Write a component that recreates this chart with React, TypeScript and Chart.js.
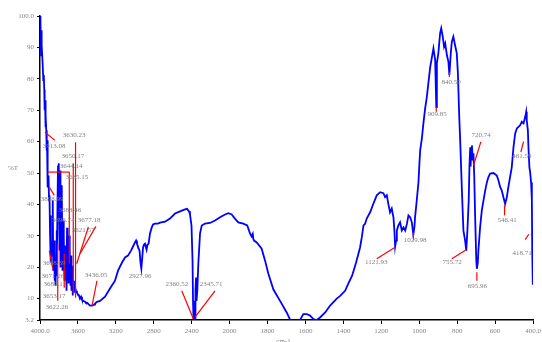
import React, { useEffect, useRef } from "react";
import { Chart, registerables } from "chart.js";

Chart.register(...registerables);

// Spectrum: wavenumber (cm-1) and %T
const WAVENUMBERS = [
  4000, 3997, 3994, 3989, 3986, 3983, 3979, 3974, 3965, 3960, 3955, 3951, 3947, 3943, 3939, 3934, 3929, 3926, 3923, 3919,
  3916, 3910, 3905, 3900, 3894, 3889, 3884, 3879, 3873, 3868, 3863, 3860, 3852, 3847, 3842, 3836, 3831, 3826, 3821, 3815,
  3810, 3805, 3800, 3794, 3789, 3784, 3778, 3773, 3768, 3763, 3757, 3752, 3747, 3742, 3736, 3731, 3726, 3720, 3715, 3710,
  3705, 3699, 3694, 3689, 3684, 3678, 3673, 3668, 3662, 3657, 3652, 3647, 3641, 3636, 3631, 3620, 3610, 3599, 3589, 3578,
  3567, 3557, 3546, 3536, 3525, 3515, 3504, 3494, 3483, 3472, 3462, 3451, 3441, 3430, 3420, 3399, 3367, 3314, 3262, 3209,
  3177, 3135, 3103, 3072, 3040, 3019, 2998, 2987, 2977, 2963, 2950, 2940, 2931, 2924, 2913, 2903, 2892, 2876, 2866, 2855,
  2840, 2822, 2808, 2787, 2755, 2734, 2681, 2629, 2576, 2523, 2470, 2449, 2428, 2418, 2402, 2391, 2386, 2381, 2375, 2370,
  2365, 2360, 2354, 2349, 2341, 2330, 2312, 2294, 2259, 2207, 2154, 2101, 2048, 2013, 1989, 1972, 1954, 1928, 1907, 1892,
  1884, 1878, 1875, 1871, 1857, 1831, 1813, 1796, 1769, 1734, 1699, 1681, 1671, 1655, 1639, 1629, 1611, 1593, 1576, 1558,
  1540, 1523, 1496, 1470, 1435, 1417, 1391, 1374, 1354, 1333, 1312, 1303, 1294, 1286, 1277, 1259, 1242, 1224, 1206, 1189,
  1180, 1171, 1163, 1154, 1145, 1136, 1131, 1127, 1122, 1118, 1110, 1101, 1092, 1083, 1074, 1065, 1057, 1048, 1039, 1031,
  1025, 1022, 1013, 1004, 999, 995, 986, 978, 969, 960, 951, 942, 933, 925, 916, 910, 907, 899, 890, 884,
  876, 869, 863, 854, 846, 841, 833, 828, 820, 811, 802, 796, 793, 789, 784, 775, 767, 758, 752, 746,
  739, 735, 731, 729, 726, 722, 718, 714, 710, 705, 699, 696, 691, 688, 679, 670, 661, 652, 643, 635,
  626, 608, 591, 582, 573, 565, 556, 547, 538, 530, 521, 512, 503, 494, 485, 477, 468, 459, 450, 441,
  436, 433, 427, 424, 419, 415, 410, 406, 404, 401,
];
const TRANSMITTANCE = [
  100, 92.3, 98.7, 87.5, 95.5, 89.1, 90.7, 86.0, 79.6, 81.2, 76.5, 70.0, 73.2, 64.6, 68.4, 63.6, 57.2, 60.4, 50.8, 54.0,
  45.4, 49.2, 41.3, 42.9, 30.7, 36.5, 21.5, 28.5, 23.7, 36.5, 41.3, 18.9, 28.5, 15.7, 25.3, 14.1, 22.1, 31.7, 17.3, 41.3,
  52.4, 38.1, 53.1, 25.3, 50.8, 19.9, 41.3, 28.5, 46.1, 18.9, 34.9, 22.1, 30.1, 15.7, 25.3, 17.3, 26.9, 12.5, 32.6, 18.9,
  28.5, 14.8, 30.1, 20.5, 25.3, 14.1, 23.7, 12.5, 20.5, 11.0, 17.3, 13.2, 15.7, 11.9, 13.8, 12.5, 11.9, 11.3, 11.0, 10.0,
  10.6, 9.7, 9.3, 9.3, 9.0, 8.7, 8.7, 8.4, 8.1, 7.8, 7.8, 7.8, 7.8, 8.1, 8.4, 9.0, 9.3, 10.6, 13.2, 15.7,
  18.9, 21.5, 23.1, 23.7, 25.3, 26.6, 27.9, 28.5, 27.5, 26.3, 25.3, 21.5, 19.6, 22.1, 26.3, 27.2, 27.5, 25.6, 27.2, 27.5,
  30.7, 32.6, 33.6, 33.9, 33.9, 34.2, 34.5, 35.5, 37.1, 37.8, 38.4, 38.6, 37.8, 36.8, 33.3, 22.1, 9.3, 3.5, 9.3, 3.2,
  3.9, 12.5, 16.7, 9.3, 12.5, 21.2, 30.7, 33.3, 33.9, 34.1, 34.9, 35.9, 36.8, 37.2, 36.8, 35.5, 34.3, 33.9, 33.3, 30.7,
  29.8, 30.6, 29.0, 28.5, 27.9, 25.9, 22.1, 18.0, 12.9, 9.3, 5.6, 3.3, 3.0, 3.0, 3.0, 3.2, 5.1, 5.1, 4.6, 3.5,
  3.2, 4.0, 5.6, 7.8, 10.0, 10.9, 12.5, 14.8, 17.3, 21.5, 26.3, 29.5, 33.3, 33.8, 35.5, 37.5, 40.2, 42.9, 43.9, 43.6,
  42.3, 42.9, 40.2, 37.5, 38.7, 35.9, 31.7, 26.6, 28.5, 31.7, 33.3, 34.3, 31.7, 32.7, 31.7, 33.8, 36.5, 35.9, 34.3, 30.4,
  33.0, 35.9, 41.3, 47.1, 53.1, 57.2, 61.0, 65.8, 70.5, 74.2, 79.0, 83.8, 86.9, 89.7, 86.0, 71.0, 85.0, 88.2, 94.5, 96.1,
  93.4, 90.2, 91.3, 87.5, 85.4, 81.2, 88.6, 91.8, 93.4, 90.7, 88.1, 81.7, 75.8, 67.9, 60.4, 44.5, 31.7, 28.5, 25.3, 31.7,
  41.3, 52.4, 58.2, 52.1, 57.2, 58.8, 54.0, 56.3, 49.2, 35.8, 22.1, 19.5, 21.5, 25.3, 32.7, 38.1, 41.3, 44.5, 47.1, 48.7,
  49.8, 50.0, 49.2, 47.6, 45.5, 44.5, 42.3, 40.2, 42.3, 45.5, 48.7, 51.8, 58.2, 62.6, 64.2, 64.7, 65.2, 66.3, 65.8, 67.9,
  69.5, 66.8, 63.6, 58.2, 51.8, 50.2, 47.0, 41.3, 25.3, 14.4,
];

// Axis ticks
const X_TICK_WN = [4000, 3600, 3200, 2800, 2400, 2000, 1800, 1600, 1400, 1200, 1000, 800, 600, 400];
const X_TICK_LABELS = ["4000.0", "3600", "3200", "2800", "2400", "2000", "1800", "1600", "1400", "1200", "1000", "800", "600", "400.0"];
const Y_TICKS = [3.2, 10, 20, 30, 40, 50, 60, 70, 80, 90, 100];
const Y_TICK_LABELS = ["3.2", "10", "20", "30", "40", "50", "60", "70", "80", "90", "100.0"];

// Peak marker lines (from / to, in wavenumber and %T)
const MARK_FROM_WN = [1127, 1031, 910, 841, 752, 714, 696, 550, 450, 441, 2505, 2154, 3451, 3947, 3625, 3649, 3919, 3691, 3902, 3613, 3578, 3813, 3902, 3744];
const MARK_FROM_T = [26.4, 31.1, 71.0, 82.2, 25.6, 52.4, 18.4, 39.7, 60.0, 28.8, 12.5, 12.5, 7.8, 63.0, 59.8, 53.1, 50.3, 50.3, 45.5, 21.1, 24.3, 27.5, 25.3, 24.3];
const MARK_TO_WN = [1224, 1031, 910, 841, 828, 675, 696, 550, 464, 422, 2383, 2365, 3399, 3842, 3625, 3649, 3691, 3691, 3849, 3490, 3410, 3813, 3866, 3744];
const MARK_TO_T = [22.7, 29.4, 69.5, 80.6, 22.7, 59.9, 15.7, 36.5, 56.7, 30.5, 3.6, 4.1, 15.7, 60.4, 10.3, 11.6, 50.3, 21.2, 42.9, 32.8, 33.0, 9.3, 19.6, 13.5];

// Peak labels
const PEAK_LABELS = [
  "3913.08", "3630.23", "3650.17", "3644.14", "3635.15", "3898.99", "3683.46", "3696.74", "3677.18", "3621.57",
  "3698.69", "3671.26", "3689.13", "3653.17", "3622.26", "3436.05", "2927.96", "2360.52", "2345.71", "1121.93",
  "1029.98", "909.85", "840.50", "755.72", "720.74", "695.96", "546.41", "461.59", "418.71",
];
const PEAK_LABEL_WN = [
  3852, 3641, 3652, 3673, 3610, 3873, 3684, 3757, 3483, 3546,
  3852, 3863, 3842, 3852, 3821, 3409, 2945, 2555, 2196, 1227,
  1022, 905, 832, 826, 673, 694, 536, 459, 457,
];
const PEAK_LABEL_T = [
  58.5, 62.0, 55.5, 52.1, 48.6, 41.6, 38.1, 34.9, 34.9, 31.7,
  21.2, 17.3, 14.5, 10.9, 7.4, 17.6, 17.3, 14.5, 14.5, 21.5,
  28.5, 68.7, 78.9, 21.5, 62.0, 14.1, 34.9, 55.3, 24.4,
];

// The instrument plot uses a doubled scale below 2000 cm-1
function toU(wn: number): number {
  return wn >= 2000 ? (4000 - wn) / 400 : 5 + (2000 - wn) / 200;
}

const LABEL_FONT = "7px 'Liberation Serif', 'DejaVu Serif', serif";

const peakMarks = {
  id: "peakMarks",
  afterDatasetsDraw(chart: any) {
    const { ctx, scales } = chart;
    const x = scales.x;
    const y = scales.y;
    ctx.save();
    ctx.strokeStyle = "#ff0000";
    ctx.lineWidth = 1.2;
    for (let i = 0; i < MARK_FROM_WN.length; i++) {
      ctx.beginPath();
      ctx.moveTo(x.getPixelForValue(toU(MARK_FROM_WN[i])), y.getPixelForValue(MARK_FROM_T[i]));
      ctx.lineTo(x.getPixelForValue(toU(MARK_TO_WN[i])), y.getPixelForValue(MARK_TO_T[i]));
      ctx.stroke();
    }
    ctx.fillStyle = "#808080";
    ctx.font = LABEL_FONT;
    ctx.textAlign = "center";
    ctx.textBaseline = "middle";
    for (let i = 0; i < PEAK_LABELS.length; i++) {
      ctx.fillText(PEAK_LABELS[i], x.getPixelForValue(toU(PEAK_LABEL_WN[i])), y.getPixelForValue(PEAK_LABEL_T[i]));
    }
    // axis titles
    ctx.fillText("%T", 13, (y.top + y.bottom) / 2);
    ctx.textBaseline = "top";
    ctx.fillText("cm-1", (x.left + x.right) / 2 - 3, 338);
    ctx.restore();
  },
};

export default function App() {
  const ref = useRef<HTMLCanvasElement | null>(null);
  useEffect(() => {
    document.body.style.margin = "0";
    const canvas = ref.current;
    if (!canvas) return;
    const points = WAVENUMBERS.map((w, i) => ({ x: toU(w), y: TRANSMITTANCE[i] }));
    const chart = new Chart(canvas, {
      type: "line",
      data: {
        datasets: [
          {
            data: points,
            borderColor: "#0000ff",
            borderWidth: 1.8,
            pointRadius: 0,
            tension: 0,
            fill: false,
          },
        ],
      },
      options: {
        animation: false,
        responsive: false,
        devicePixelRatio: 1,
        layout: { padding: { top: 16, right: 9, left: 0, bottom: 0 } },
        plugins: { legend: { display: false }, tooltip: { enabled: false } },
        scales: {
          x: {
            type: "linear",
            min: 0,
            max: 13,
            afterBuildTicks: (s: any) => {
              s.ticks = X_TICK_WN.map((w) => ({ value: toU(w) }));
            },
            afterFit: (s: any) => {
              s.height = 22;
              s.paddingLeft = 0;
              s.paddingRight = 0;
            },
            ticks: {
              autoSkip: false,
              maxRotation: 0,
              padding: 3,
              color: "#888888",
              font: { family: "'Liberation Serif', serif", size: 7 },
              callback: (v: any) => {
                const idx = X_TICK_WN.findIndex((w) => Math.abs(toU(w) - v) < 1e-6);
                return idx >= 0 ? X_TICK_LABELS[idx] : "";
              },
            },
            grid: { display: true, drawOnChartArea: false, drawTicks: true, tickLength: 4, color: "#000000", lineWidth: 1 },
            border: { display: true, color: "#000000", width: 1.5 },
          },
          y: {
            type: "linear",
            min: 3.2,
            max: 100,
            afterBuildTicks: (s: any) => {
              s.ticks = Y_TICKS.map((v) => ({ value: v }));
            },
            afterFit: (s: any) => {
              s.width = 40;
            },
            ticks: {
              autoSkip: false,
              padding: 3,
              color: "#888888",
              font: { family: "'Liberation Serif', serif", size: 7 },
              callback: (v: any) => {
                const idx = Y_TICKS.findIndex((t) => Math.abs(t - v) < 1e-6);
                return idx >= 0 ? Y_TICK_LABELS[idx] : "";
              },
            },
            grid: { display: true, drawOnChartArea: false, drawTicks: true, tickLength: 3, color: "#000000", lineWidth: 1 },
            border: { display: true, color: "#000000", width: 1.5 },
          },
        },
      },
      plugins: [peakMarks],
    } as any);
    return () => chart.destroy();
  }, []);
  return <canvas ref={ref} width={542} height={342} style={{ display: "block" }} />;
}
